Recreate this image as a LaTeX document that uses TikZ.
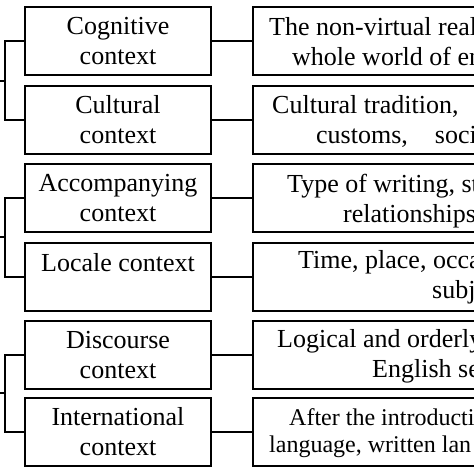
\documentclass[tikz,border=0pt]{standalone}
\usepackage{fontspec}
\setmainfont{Liberation Serif}
\begin{document}
\begin{tikzpicture}[x=1pt,y=-1pt,
  box/.style={draw,line width=1.5pt,rectangle,inner sep=0pt,outer sep=0pt,anchor=north west,minimum height=68pt},
  lbox/.style={box,minimum width=186pt,align=center,font=\fontsize{26}{30}\selectfont},
  rbox/.style={box,minimum width=250pt},
  rtxt/.style={anchor=base west,inner sep=0pt,font=\fontsize{26}{30}\selectfont},
  rtxts/.style={anchor=base west,inner sep=0pt,font=\fontsize{24}{28}\selectfont},
  link/.style={line width=1.5pt}]
\useasboundingbox (0,0) rectangle (474,474);
\clip (0,0) rectangle (474,474);
% left boxes
\node[lbox] (L1) at (25,7) {Cognitive\\context};
\node[lbox] (L2) at (25,86) {Cultural\\context};
\node[lbox] (L3) at (25,164) {Accompanying\\context};
\node[lbox] (L4) at (25,243) {Locale context\\\mbox{}};
\node[lbox] (L5) at (25,321) {Discourse\\context};
\node[lbox] (L6) at (25,398) {International\\context};
% right boxes
\node[rbox] (R1) at (253,7) {};
\node[rbox] (R2) at (253,86) {};
\node[rbox] (R3) at (253,164) {};
\node[rbox] (R4) at (253,243) {};
\node[rbox] (R5) at (253,321) {};
\node[rbox] (R6) at (253,398) {};
% right texts
\node[rtxt] (t1a) at (269,35) {The non-virtual real};
\node[rtxt] (t1b) at (292,65) {whole world of en};
\node[rtxt] (t2a) at (272,113) {Cultural tradition,};
\node[rtxt] (t2b) at (316,143) {customs,\hspace*{27pt}soci};
\node[rtxt] (t3a) at (287,192) {Type of writing, st};
\node[rtxt] (t3b) at (343,222) {relationships};
\node[rtxt] (t4a) at (298,268) {Time, place, occa};
\node[rtxt] (t4b) at (432,298) {subj};
\node[rtxt] (t5a) at (277,347) {Logical and orderly};
\node[rtxt] (t5b) at (372,377) {English se};
\node[rtxts] (t6a) at (289,425) {After the introducti};
\node[rtxts] (t6b) at (269,452) {language, written lan};
% connectors
\foreach \i in {1,...,6} {\draw[link] (L\i.east) -- (R\i.west);}
% brackets
\coordinate (e1) at (0,81);
\coordinate (e2) at (0,237);
\coordinate (e3) at (0,393);
\draw[link] (L1.west) -- ++(-20,0) |- (L2.west);
\draw[link] (L3.west) -- ++(-20,0) |- (L4.west);
\draw[link] (L5.west) -- ++(-20,0) |- (L6.west);
\draw[link] (e1) -- ++(5,0);
\draw[link] (e2) -- ++(5,0);
\draw[link] (e3) -- ++(5,0);
\end{tikzpicture}
\end{document}
